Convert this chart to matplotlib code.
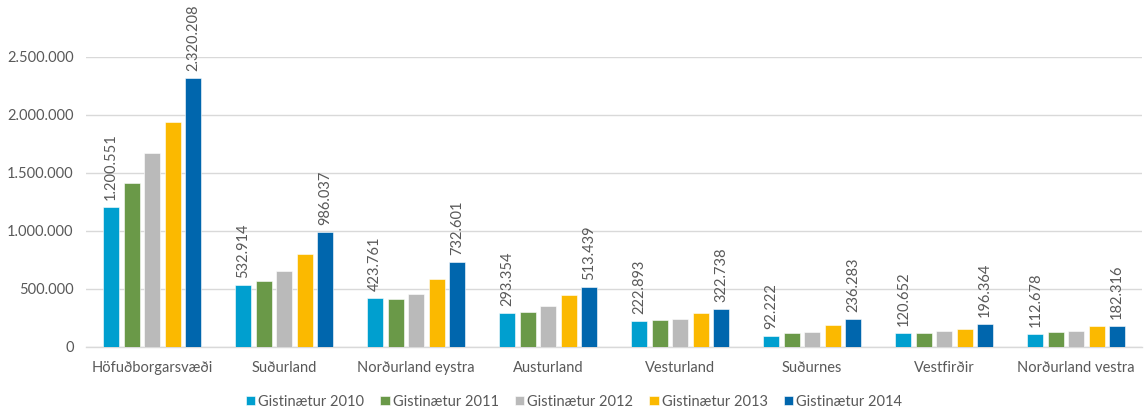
import matplotlib
matplotlib.use("Agg")
import matplotlib.pyplot as plt
import numpy as np

categories = ["Höfuðborgarsvæði", "Suðurland", "Norðurland eystra", "Austurland",
              "Vesturland", "Suðurnes", "Vestfirðir", "Norðurland vestra"]
series_names = ["Gistinætur 2010", "Gistinætur 2011", "Gistinætur 2012",
                "Gistinætur 2013", "Gistinætur 2014"]
g2010 = [1200551, 532914, 423761, 293354, 222893, 92222, 120652, 112678]
g2011 = [1409000, 569000, 411000, 295000, 230000, 118000, 115000, 127000]
g2012 = [1670000, 652000, 457000, 353000, 241000, 129000, 135000, 135000]
g2013 = [1937000, 799000, 581000, 446000, 288000, 190000, 153000, 178000]
g2014 = [2320208, 986037, 732601, 513439, 322738, 236283, 196364, 182316]
yticks = [0, 500000, 1000000, 1500000, 2000000, 2500000]

colors = ["#009FCF", "#6A9948", "#BABABA", "#FBB900", "#0066AD"]
series = [g2010, g2011, g2012, g2013, g2014]

plt.rcParams['font.family'] = ['Lato', 'DejaVu Sans']

fig = plt.figure(figsize=(11.48, 4.12), dpi=100)
ax = fig.add_axes([0.075, 0.1585, 0.92, 0.7039])

def fmt(v):
    return f"{v:,}".replace(",", ".")

x = np.arange(len(categories))
bw = 0.122
step = 0.155
for i, (vals, c, name) in enumerate(zip(series, colors, series_names)):
    pos = x + (i - 2) * step
    ax.bar(pos, vals, width=bw, color=c, label=name, edgecolor="white",
           linewidth=0.4, zorder=3)
    if i in (0, 4):
        for p, v in zip(pos, vals):
            ax.annotate(fmt(v), (p, v), xytext=(0, 5), textcoords="offset points",
                        rotation=90, ha="center", va="bottom", fontsize=10.5,
                        color="#595959", annotation_clip=False)

ax.set_xlim(-0.5, len(categories) - 0.5)
ax.set_ylim(0, 2500000)
ax.set_yticks(yticks)
ax.set_yticklabels([fmt(t) for t in yticks])
ax.set_xticks(x)
ax.set_xticklabels(categories)
ax.tick_params(axis="both", length=0, labelsize=10.5, labelcolor="#595959")
ax.tick_params(axis="x", pad=10)
ax.tick_params(axis="y", pad=9)
ax.yaxis.grid(True, color="#D9D9D9", linewidth=1, zorder=0)
ax.set_axisbelow(True)
for s in ["top", "right", "left"]:
    ax.spines[s].set_visible(False)
ax.spines["bottom"].set_color("#D9D9D9")
ax.spines["bottom"].set_linewidth(1)

leg = fig.legend(loc="center", bbox_to_anchor=(0.5, 1 - 401.5 / 412), ncol=5,
                 frameon=False, fontsize=10.5, handlelength=0.65, handleheight=0.65,
                 handletextpad=0.2, columnspacing=1.1, labelcolor="#595959",
                 borderpad=0, borderaxespad=0)

fig.savefig("out.png", dpi=100)
